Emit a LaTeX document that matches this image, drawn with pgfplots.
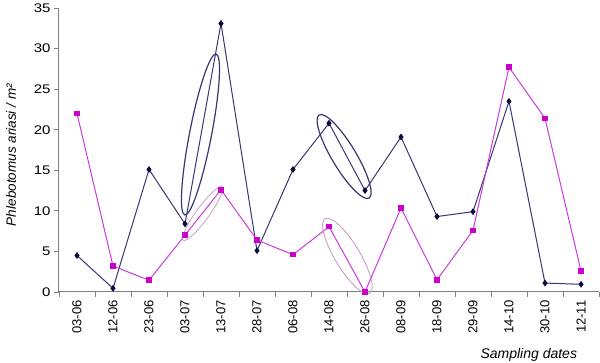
\documentclass[border=0pt]{standalone}
\usepackage{fontspec}
\setmainfont{Liberation Sans}
\newfontfamily\widefont[FakeStretch=1.2]{Liberation Sans}
\usepackage{pgfplots}
\pgfplotsset{compat=1.18}
\usetikzlibrary{shapes.geometric}
\definecolor{navyline}{RGB}{55,55,115}
\definecolor{navymark}{RGB}{10,10,60}
\definecolor{magline}{RGB}{200,60,220}
\definecolor{magmark}{RGB}{204,0,204}
\definecolor{magell}{RGB}{195,150,195}
\definecolor{axgray}{RGB}{128,128,128}
\begin{document}
\begin{tikzpicture}
\begin{axis}[
  scale only axis,
  width=540pt, height=284pt,
  xmin=-0.5, xmax=14.5, ymin=0, ymax=35,
  axis x line*=bottom, axis y line*=left,
  axis line style={axgray, line width=1pt},
  tick align=outside,
  ytick={0,5,...,35},
  major tick length=5pt, minor tick length=5pt,
  tick style={axgray, line width=0.8pt},
  xtick={0,...,14},
  xticklabels={03-06,12-06,23-06,03-07,13-07,28-07,06-08,14-08,26-08,08-09,18-09,29-09,14-10,30-10,12-11},
  major x tick style={draw=none},
  minor xtick={-0.5,0.5,...,14.5},
  xticklabel style={rotate=90, anchor=east, font=\fontsize{13}{15}\selectfont},
  yticklabel style={font=\widefont\fontsize{12.5}{15}\selectfont},
  /pgf/number format/assume math mode=true,
  ylabel={\textit{Phlebotomus ariasi} / m²},
  ylabel style={at={(axis description cs:0,0.482)}, anchor=center, yshift=48pt, font=\itshape\fontsize{13.5}{15}\selectfont},
  xlabel={Sampling dates},
  xlabel style={at={(axis description cs:0.870,0)}, anchor=center, yshift=-63pt, font=\itshape\fontsize{14}{16}\selectfont},
  clip=false,
]
\addplot[color=navyline, line width=1pt, mark=diamond*, mark size=2.6pt, mark options={fill=navymark, draw=navymark}] coordinates {
(0,4.5) (1,0.45) (2,15.1) (3,8.4) (4,33.1) (5,5.1) (6,15.1) (7,20.8) (8,12.5) (9,19.1) (10,9.3) (11,9.9) (12,23.5) (13,1.1) (14,0.95)};
\addplot[color=magline, line width=1pt, mark=square*, mark size=2.3pt, mark options={fill=magmark, draw=magmark}] coordinates {
(0,22) (1,3.2) (2,1.45) (3,7.0) (4,12.6) (5,6.4) (6,4.6) (7,8.05) (8,0) (9,10.35) (10,1.5) (11,7.6) (12,27.7) (13,21.4) (14,2.6)};
\node[draw=navyline, line width=1.2pt, ellipse, minimum width=164pt, minimum height=22pt, inner sep=0pt, rotate=79] at (axis cs:3.43,19.41) {};
\node[draw=navyline, line width=1.2pt, ellipse, minimum width=97pt, minimum height=24pt, inner sep=0pt, rotate=-59] at (axis cs:7.42,16.7) {};
\node[draw=magell, line width=0.7pt, ellipse, minimum width=66pt, minimum height=13pt, inner sep=0pt, rotate=54] at (axis cs:3.49,9.67) {};
\node[draw=magell, line width=0.8pt, ellipse, minimum width=87pt, minimum height=25pt, inner sep=0pt, rotate=-59] at (axis cs:7.51,4.44) {};
\coordinate (O) at (rel axis cs:0,0);
\end{axis}
\pgfresetboundingbox
\path (O) ++(-59pt,-71pt) rectangle ++(600pt,363pt);
\end{tikzpicture}
\end{document}
